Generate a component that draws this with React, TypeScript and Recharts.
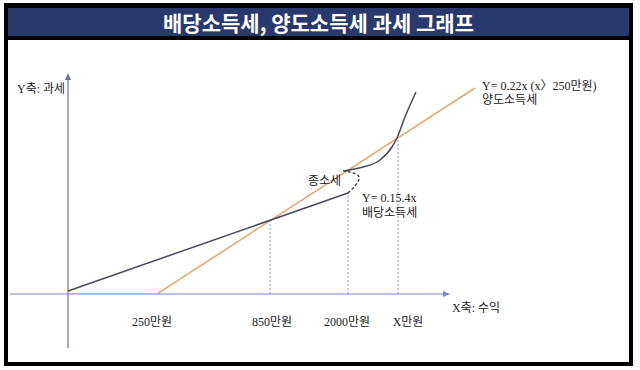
import React from 'react';
import { ComposedChart, Line, XAxis, YAxis, ReferenceLine, ReferenceDot } from 'recharts';

// Schematic coordinates (x: income position, y: tax amount)
const dividendTax = [
  { x: 0, y: 3 },
  { x: 280, y: 101 },
];
const comprehensiveJump = [
  { x: 280, y: 101 },
  { x: 287, y: 108 },
  { x: 291, y: 115 },
  { x: 288, y: 120 },
  { x: 276, y: 123 },
];
const comprehensiveTax = [
  { x: 275, y: 123 },
  { x: 295, y: 127 },
  { x: 312, y: 134 },
  { x: 324, y: 147 },
  { x: 329, y: 156 },
  { x: 337, y: 177 },
  { x: 348, y: 202 },
];
const capitalGainsTax = [
  { x: 0, y: 0 },
  { x: 89, y: 0 },
  { x: 407, y: 206 },
];
const tickValues = [84, 204, 279, 340];
const tickLabels = ['250만원', '850만원', '2000만원', 'X만원'];
const guideLines = [
  { x: 202, y: 73 },
  { x: 280, y: 101 },
  { x: 330, y: 156 },
];
const notes = [
  { x: -51, y: 201, text: 'Y축: 과세' },
  { x: 384, y: -18, text: 'X축: 수익' },
  { x: 414, y: 204, text: 'Y= 0.22x (x〉250만원)' },
  { x: 414, y: 190, text: '양도소득세' },
  { x: 240, y: 109, text: '종소세' },
  { x: 294, y: 92, text: 'Y= 0.15.4x' },
  { x: 294, y: 77, text: '배당소득세' },
];
const xAxisLine = [{ x: -58, y: 0 }, { x: 382, y: 0 }];
const yAxisLine = [{ x: 0, y: -54 }, { x: 0, y: 221 }];

const FONT = '"Liberation Serif", "DejaVu Serif", "Noto Sans CJK KR", serif';

const arrowShape = (color: string) => (p: any) => {
  const { x1, y1, x2, y2 } = p;
  const ang = Math.atan2(y2 - y1, x2 - x1);
  const L = 7;
  const W = 3;
  const bx = x2 - L * Math.cos(ang);
  const by = y2 - L * Math.sin(ang);
  const px = -Math.sin(ang) * W;
  const py = Math.cos(ang) * W;
  return (
    <g>
      <line x1={x1} y1={y1} x2={bx} y2={by} stroke={color} strokeWidth={1.2} />
      <polygon points={`${x2},${y2} ${bx + px},${by + py} ${bx - px},${by - py}`} fill={color} />
    </g>
  );
};

const noteShape = (text: string) => (p: any) => (
  <text x={p.cx} y={p.cy} fontSize={12} fill="#222" fontFamily={FONT}>
    {text}
  </text>
);

export default function App() {
  return (
    <div style={{ position: 'absolute', left: 0, top: 0, width: 640, height: 370, background: '#fff', overflow: 'hidden' }}>
      <div
        style={{
          position: 'absolute',
          left: 4,
          top: 3,
          width: 629,
          height: 363,
          boxSizing: 'border-box',
          borderTop: '5px solid #000',
          borderLeft: '4px solid #000',
          borderRight: '4px solid #000',
          borderBottom: '4px solid #000',
          background: '#fff',
        }}
      >
        <div
          style={{
            height: 28,
            background: '#2a396b',
            borderBottom: '4px solid #000',
            color: '#fff',
            fontFamily: '"Noto Sans CJK KR", sans-serif',
            fontWeight: 700,
            fontSize: 21,
            lineHeight: '28px',
            textAlign: 'center',
            letterSpacing: 0,
          }}
        >
          배당소득세, 양도소득세 과세 그래프
        </div>
      </div>
      <div style={{ position: 'absolute', left: 0, top: 0 }}>
        <ComposedChart width={640} height={370} margin={{ top: 40, right: 10, bottom: 0, left: 10 }}>
          <XAxis
            type="number"
            dataKey="x"
            domain={[-58, 562]}
            ticks={tickValues}
            tickFormatter={(v: number) => tickLabels[tickValues.indexOf(v)] ?? ''}
            axisLine={false}
            tickLine={false}
            tickSize={0}
            tickMargin={23}
            height={76}
            interval={0}
            allowDataOverflow
            tick={{ fill: '#222', fontSize: 12, fontFamily: FONT }}
          />
          <YAxis type="number" dataKey="y" domain={[0, 254]} hide allowDataOverflow />
          <ReferenceLine segment={xAxisLine} ifOverflow="visible" shape={arrowShape('#7d88cc')} />
          <ReferenceLine segment={yAxisLine} ifOverflow="visible" shape={arrowShape('#6d7299')} />
          {guideLines.map((g, i) => (
            <ReferenceLine
              key={i}
              segment={[{ x: g.x, y: 0 }, { x: g.x, y: g.y }]}
              ifOverflow="visible"
              stroke="#8f98cc"
              strokeDasharray="2 2"
              strokeWidth={1}
            />
          ))}
          <Line
            data={capitalGainsTax}
            dataKey="y"
            type="linear"
            stroke="#e2a874"
            strokeWidth={1.5}
            dot={false}
            isAnimationActive={false}
          />
          <Line
            data={dividendTax}
            dataKey="y"
            type="linear"
            stroke="#474a5c"
            strokeWidth={1.5}
            dot={false}
            isAnimationActive={false}
          />
          <Line
            data={comprehensiveJump}
            dataKey="y"
            type="natural"
            stroke="#333"
            strokeWidth={1.3}
            strokeDasharray="3 2"
            dot={false}
            isAnimationActive={false}
          />
          <Line
            data={comprehensiveTax}
            dataKey="y"
            type="monotone"
            stroke="#474a5c"
            strokeWidth={1.5}
            dot={false}
            isAnimationActive={false}
          />
          {notes.map((n, i) => (
            <ReferenceDot key={i} x={n.x} y={n.y} r={0} ifOverflow="visible" shape={noteShape(n.text)} />
          ))}
        </ComposedChart>
      </div>
    </div>
  );
}
